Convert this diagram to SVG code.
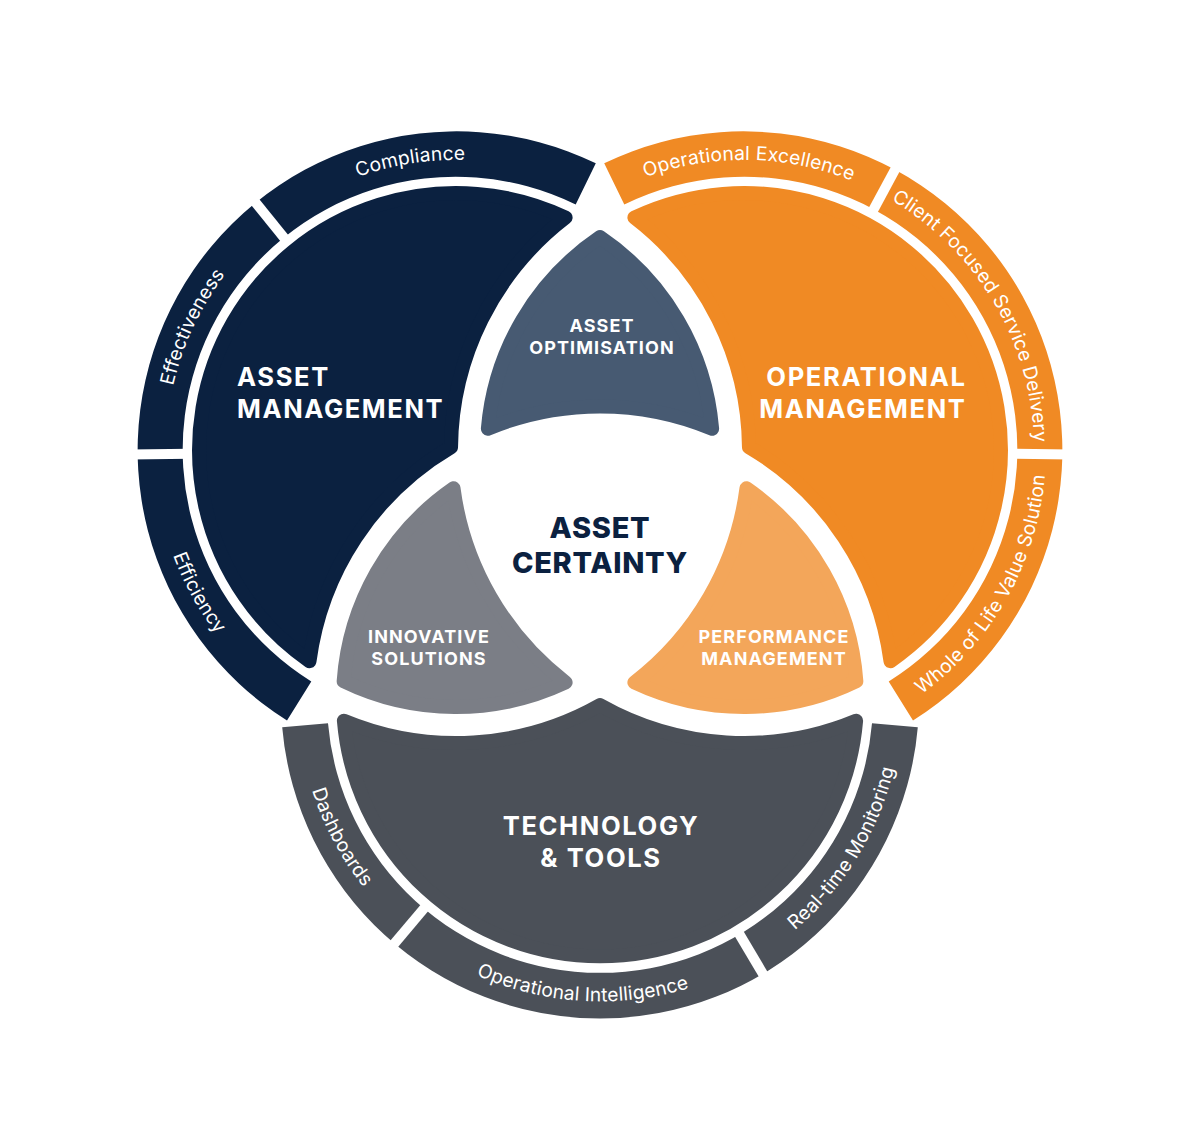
<svg xmlns="http://www.w3.org/2000/svg" width="1200" height="1147" viewBox="0 0 1200 1147">
<style>
.big{font-family:Inter,"Liberation Sans",sans-serif;font-weight:700;font-size:25.6px;letter-spacing:1.6px;fill:#fff}
.mid{font-family:Inter,"Liberation Sans",sans-serif;font-weight:700;font-size:18px;letter-spacing:1.1px;fill:#fff;text-anchor:middle}
.core{font-family:Inter,"Liberation Sans",sans-serif;font-weight:800;font-size:29px;letter-spacing:0.7px;fill:#0B2140;text-anchor:middle}
.band{font-family:Inter,"Liberation Sans",sans-serif;font-size:19.2px;letter-spacing:0.15px;fill:#fff;text-anchor:middle}
.rnd{stroke-width:14;stroke-linejoin:round}
.sep{stroke:#fff;stroke-width:10;fill:none}
.navy{fill:#0B2140;stroke:#0B2140}
.orange{fill:#F08A24;stroke:#F08A24}
.grey{fill:#4B5058;stroke:#4B5058}
</style>
<defs>
<path id="tp-compliance" d="M207.4,300.6 A290,290 0 0 1 646.3,231.1"/>
<path id="tp-effectiveness" d="M193.2,572.6 A290,290 0 0 1 380.9,169.9"/>
<path id="tp-efficiency" d="M174.1,341.8 A302,302 0 0 0 398.4,746.4"/>
<path id="tp-opex" d="M525.1,259.7 A290,290 0 0 1 969.4,267.5"/>
<path id="tp-client" d="M791.9,164 A290,290 0 0 1 1017.4,546.8"/>
<path id="tp-whole" d="M799.6,746.8 A302,302 0 0 0 1026.7,343.8"/>
<path id="tp-dash" d="M320,586.3 A302,302 0 0 0 537.2,994.8"/>
<path id="tp-opint" d="M357.2,879 A302,302 0 0 0 819.1,907.3"/>
<path id="tp-realtime" d="M644.6,998.1 A302,302 0 0 0 886.4,603.6"/>
</defs>
<rect width="1200" height="1147" fill="#fff"/>

<g id="asset-management">
<path class="navy rnd" d="M565.6,217.55 A257,257 0 0 0 309.51,661.16 A293,293 0 0 1 451.03,447.11 A293,293 0 0 1 565.6,217.55 Z"/>
<path fill="#0B2140" d="M287,720.5 A319,319 0 0 1 595.8,163.3 L575.7,204.6 A273,273 0 0 0 311.3,681.5 Z"/>
<text class="big" x="237" y="386">ASSET</text>
<text class="big" x="237" y="418">MANAGEMENT</text>
<text class="band"><textPath href="#tp-compliance" startOffset="50%">Compliance</textPath></text>
<text class="band"><textPath href="#tp-effectiveness" startOffset="50%">Effectiveness</textPath></text>
<text class="band"><textPath href="#tp-efficiency" startOffset="50%">Efficiency</textPath></text>
</g>

<g id="operational-management">
<path class="orange rnd" d="M634.4,217.55 A257,257 0 0 1 890.49,661.16 A293,293 0 0 0 748.97,447.11 A293,293 0 0 0 634.4,217.55 Z"/>
<path fill="#F08A24" d="M913,720.5 A319,319 0 0 0 604.2,163.3 L624.3,204.6 A273,273 0 0 1 888.7,681.5 Z"/>
<text class="big" x="966.5" y="386" text-anchor="end">OPERATIONAL</text>
<text class="big" x="966.5" y="418" text-anchor="end">MANAGEMENT</text>
<text class="band"><textPath href="#tp-opex" startOffset="50%">Operational Excellence</textPath></text>
<text class="band"><textPath href="#tp-client" startOffset="50%">Client Focused Service Delivery</textPath></text>
<text class="band"><textPath href="#tp-whole" startOffset="50%">Whole of Life Value Solution</textPath></text>
</g>

<g id="technology-tools">
<path class="grey rnd" d="M343.89,720.7 A257,257 0 0 0 856.11,720.7 A293,293 0 0 1 600,705.17 A293,293 0 0 1 343.89,720.7 Z"/>
<path fill="#4B5058" d="M917.8,727.2 A319,319 0 0 1 282.2,727.2 L328,723.2 A273,273 0 0 0 872,723.2 Z"/>
<text class="big" x="601" y="835" text-anchor="middle">TECHNOLOGY</text>
<text class="big" x="601" y="867" text-anchor="middle">&amp; TOOLS</text>
<text class="band"><textPath href="#tp-dash" startOffset="50%">Dashboards</textPath></text>
<text class="band"><textPath href="#tp-opint" startOffset="50%">Operational Intelligence</textPath></text>
<text class="band"><textPath href="#tp-realtime" startOffset="50%">Real-time Monitoring</textPath></text>
</g>

<g id="asset-optimisation">
<path class="rnd" fill="#475A72" stroke="#475A72" d="M600,237.13 A257,257 0 0 0 487.89,428.7 A293,293 0 0 1 712.11,428.7 A257,257 0 0 0 600,237.13 Z"/>
<text class="mid" x="602" y="332">ASSET</text>
<text class="mid" x="602" y="354">OPTIMISATION</text>
</g>

<g id="innovative-solutions">
<path class="rnd" fill="#7B7E86" stroke="#7B7E86" d="M453.51,488.24 A257,257 0 0 0 343.66,681.14 A257,257 0 0 0 565.6,682.45 A293,293 0 0 1 453.51,488.24 Z"/>
<text class="mid" x="429" y="643">INNOVATIVE</text>
<text class="mid" x="429" y="665">SOLUTIONS</text>
</g>

<g id="performance-management">
<path class="rnd" fill="#F3A65A" stroke="#F3A65A" d="M746.49,488.24 A257,257 0 0 1 856.34,681.14 A257,257 0 0 1 634.4,682.45 A293,293 0 0 0 746.49,488.24 Z"/>
<text class="mid" x="774" y="643">PERFORMANCE</text>
<text class="mid" x="774" y="665">MANAGEMENT</text>
</g>

<g id="asset-certainty">
<text class="core" x="600" y="538">ASSET</text>
<text class="core" x="600" y="573">CERTAINTY</text>
</g>

<g id="separators">
<line class="sep" x1="190" y1="453.7" x2="130" y2="454.55"/>
<line class="sep" x1="288.6" y1="243.3" x2="250.8" y2="196.7"/>
<line class="sep" x1="1010" y1="453.7" x2="1070" y2="454.55"/>
<line class="sep" x1="870.1" y1="215.8" x2="898.6" y2="163"/>
<line class="sep" x1="428.7" y1="902.9" x2="390" y2="948.8"/>
<line class="sep" x1="735.8" y1="928.1" x2="766.4" y2="979.7"/>
</g>
</svg>
